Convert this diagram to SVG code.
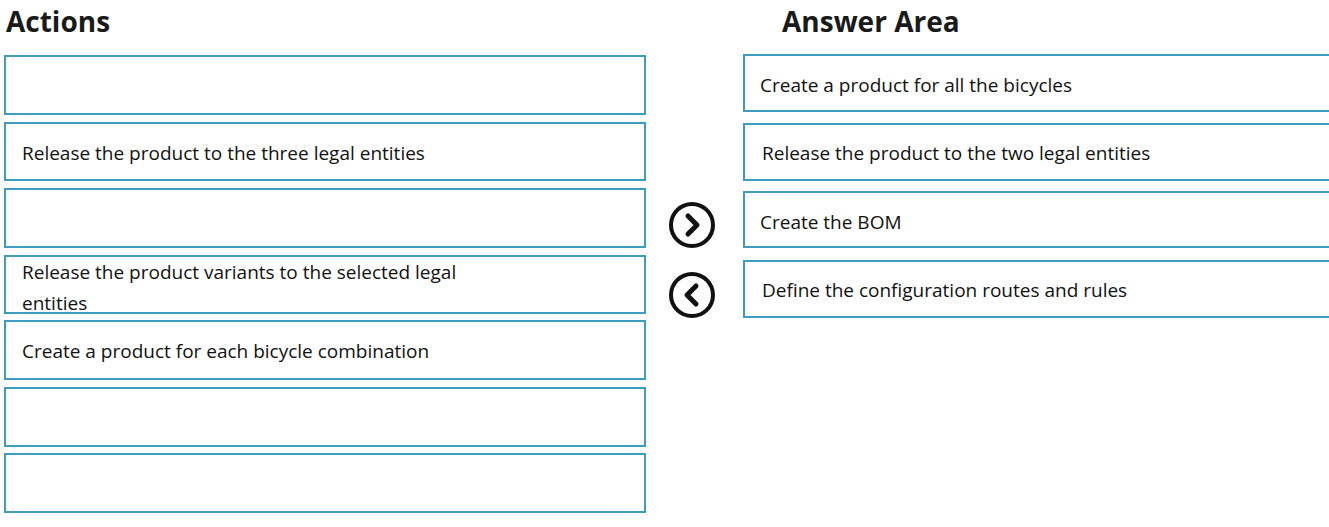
<svg xmlns="http://www.w3.org/2000/svg" width="1329" height="527" viewBox="0 0 1329 527">
<style>
.h{font-family:"Open Sans","Liberation Sans",sans-serif;font-weight:bold;font-size:28px;fill:#1a1a1a}
.b{fill:#fff;stroke:#3d9cc0;stroke-width:2}
.t{font-family:"Open Sans","Liberation Sans",sans-serif;font-size:19px;fill:#111}
.c{fill:#fff;stroke:#111;stroke-width:4}
.a{fill:none;stroke:#111;stroke-width:5;stroke-linecap:round;stroke-linejoin:round}
</style>
<rect width="1329" height="527" fill="#fff"/>
<text class="h" x="6" y="32">Actions</text>
<text class="h" x="782" y="32">Answer Area</text>
<g id="a1"><rect class="b" x="5" y="56" width="640" height="58"/></g>
<g id="a2"><rect class="b" x="5" y="123" width="640" height="57"/><text class="t" x="22" y="160">Release the product to the three legal entities</text></g>
<g id="a3"><rect class="b" x="5" y="189" width="640" height="58"/></g>
<g id="a4"><rect class="b" x="5" y="256" width="640" height="57"/><text class="t" x="22" y="279">Release the product variants to the selected legal</text><text class="t" x="22" y="310">entities</text></g>
<g id="a5"><rect class="b" x="5" y="321" width="640" height="58"/><text class="t" x="22" y="358">Create a product for each bicycle combination</text></g>
<g id="a6"><rect class="b" x="5" y="388" width="640" height="58"/></g>
<g id="a7"><rect class="b" x="5" y="454" width="640" height="58"/></g>
<g id="r1"><rect class="b" x="744" y="55" width="590" height="56"/><text class="t" x="760" y="92">Create a product for all the bicycles</text></g>
<g id="r2"><rect class="b" x="744" y="124" width="590" height="56"/><text class="t" x="762" y="160">Release the product to the two legal entities</text></g>
<g id="r3"><rect class="b" x="744" y="192" width="590" height="55"/><text class="t" x="760" y="229">Create the BOM</text></g>
<g id="r4"><rect class="b" x="744" y="261" width="590" height="56"/><text class="t" x="762" y="297">Define the configuration routes and rules</text></g>
<g id="btnR"><circle class="c" cx="692" cy="225" r="21"/><path class="a" d="M688 216 L697 225 L688 234"/></g>
<g id="btnL"><circle class="c" cx="692" cy="295" r="21"/><path class="a" d="M696 286 L687 295 L696 304"/></g>
<g id="connectors"></g>
</svg>
